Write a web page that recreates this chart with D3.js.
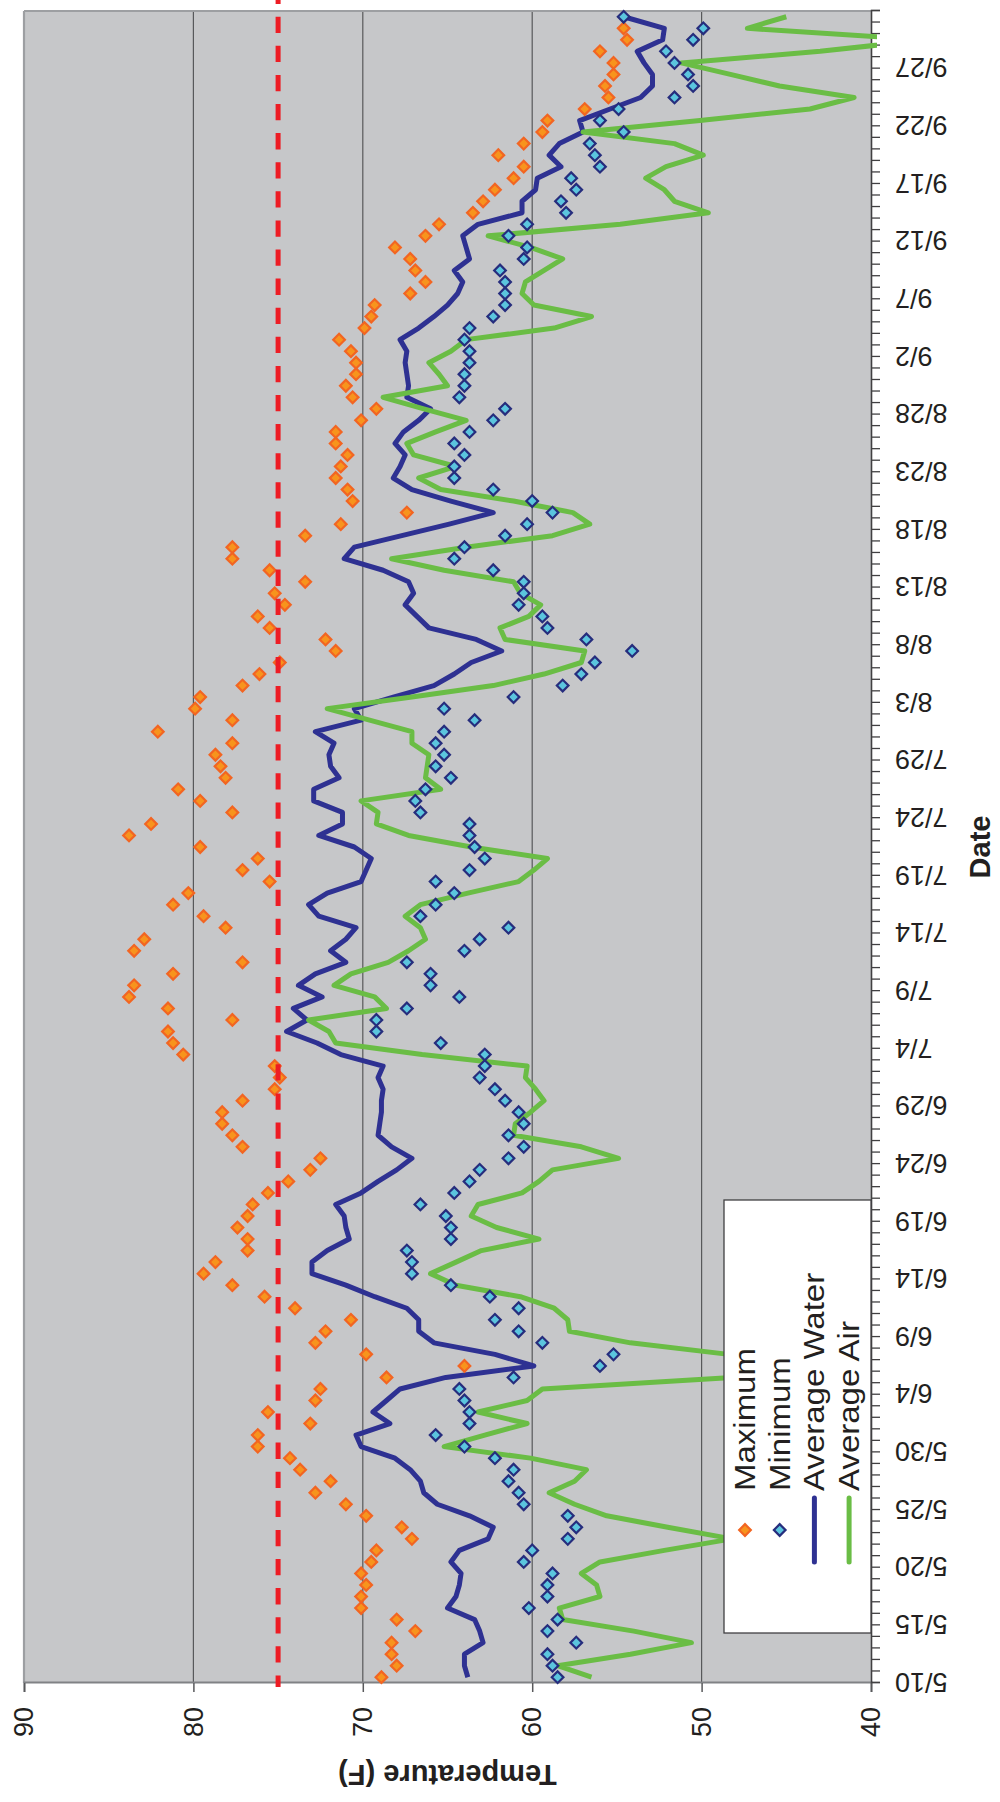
<!DOCTYPE html>
<html>
<head>
<meta charset="utf-8">
<script src="https://cdn.jsdelivr.net/npm/d3@7"></script>
<style>
  body { margin: 0; background: #fff; }
  svg { display: block; font-family: "Liberation Sans", Arial, sans-serif; }
</style>
</head>
<body>
<svg id="chart" width="1000" height="1802"></svg>
<script>
// One reading per day, 5/10 through 10/1 (null = no reading)
const startDay = new Date(2008, 4, 10);

const maxTemp = [
  68.9, 68.0, 68.3, 68.3, 66.9, 68.0, 70.1, 70.1, 69.8, 70.1,
  69.5, 69.2, 67.1, 67.7, 69.8, 71.0, 72.8, 71.9, 73.7, 74.3,
  76.2, 76.2, 73.1, 75.6, 72.8, 72.5, 68.6, 64.0, 69.8, 72.8,
  72.2, 70.7, 74.0, 75.8, 77.7, 79.4, 78.7, 76.8, 76.8, 77.4,
  76.8, 76.5, 75.6, 74.4, 73.1, 72.5, 77.1, 77.7, 78.3, 78.3,
  77.1, 75.2, 74.9, 75.2, 80.6, 81.2, 81.5, 77.7, 81.5, 83.8,
  83.5, 81.2, 77.1, 83.5, 82.9, 78.1, 79.4, 81.2, 80.3, 75.5,
  77.1, 76.2, 79.6, 83.8, 82.5, 77.7, 79.6, 80.9, 78.1, 78.4,
  78.7, 77.7, 82.1, 77.7, 79.9, 79.6, 77.1, 76.1, 74.9, 71.6,
  72.2, 75.5, 76.2, 74.6, 75.2, 73.4, 75.5, 77.7, 77.7, 73.4,
  71.3, 67.4, 70.6, 70.9, 71.6, 71.3, 70.9, 71.6, 71.6, 70.1,
  69.2, 70.6, 71.0, 70.4, 70.4, 70.7, 71.4, 69.9, 69.5, 69.3,
  67.2, 66.3, 66.9, 67.2, 68.1, 66.3, 65.5, 63.5, 62.9, 62.2,
  61.1, 60.5, 62.0, 60.5, 59.4, 59.1, 56.9, 55.5, 55.7, 55.2,
  55.2, 56.0, 54.4, 54.6, null
];

const minTemp = [
  58.5, 58.8, 59.1, 57.4, 59.1, 58.5, 60.2, 59.1, 59.1, 58.8,
  60.5, 60.0, 57.9, 57.4, 57.9, 60.5, 60.8, 61.4, 61.1, 62.2,
  64.0, 65.7, 63.7, 63.7, 64.0, 64.3, 61.1, 56.0, 55.2, 59.4,
  60.8, 62.2, 60.8, 62.5, 64.8, 67.1, 67.1, 67.4, 64.8, 64.8,
  65.1, 66.6, 64.6, 63.7, 63.1, 61.4, 60.5, 61.4, 60.5, 60.8,
  61.6, 62.2, 63.1, 62.8, 62.8, 65.4, 69.2, 69.2, 67.4, 64.3,
  66.0, 66.0, 67.4, 64.0, 63.1, 61.4, 66.6, 65.7, 64.6, 65.7,
  63.7, 62.8, 63.4, 63.7, 63.7, 66.6, 66.9, 66.3, 64.8, 65.7,
  65.2, 65.7, 65.2, 63.4, 65.2, 61.1, 58.2, 57.1, 56.3, 54.1,
  56.8, 59.1, 59.4, 60.8, 60.5, 60.5, 62.3, 64.6, 64.0, 61.6,
  60.3, 58.8, 60.0, 62.3, 64.6, 64.6, 64.0, 64.6, 63.7, 62.3,
  61.6, 64.3, 64.0, 64.0, 63.7, 63.7, 64.0, 63.7, 62.3, 61.6,
  61.6, 61.6, 61.9, 60.5, 60.3, 61.4, 60.3, 58.0, 58.3, 57.4,
  57.7, 56.0, 56.3, 56.6, 54.6, 56.0, 54.9, 51.6, 50.5, 50.8,
  51.6, 52.1, 50.5, 49.9, 54.6
];

const waterAvg = [
  63.8, 64.0, 64.0, 62.9, 63.1, 63.4, 65.0, 64.5, 64.3, 64.2,
  64.8, 64.3, 62.6, 62.3, 63.7, 65.6, 66.4, 66.6, 67.2, 68.1,
  70.1, 70.4, 68.4, 69.4, 68.6, 67.8, 65.1, 59.9, 62.2, 65.8,
  66.7, 66.7, 67.4, 69.3, 71.0, 73.0, 73.0, 72.1, 70.8, 71.0,
  71.1, 71.6, 70.1, 69.1, 68.0, 67.1, 68.3, 69.1, 69.0, 68.9,
  68.9, 68.8, 69.1, 68.8, 71.3, 72.7, 74.5, 73.3, 74.1, 72.4,
  73.8, 72.8, 71.0, 71.9, 71.0, 70.4, 72.6, 73.2, 72.1, 70.1,
  69.8, 69.5, 70.5, 72.6, 71.2, 71.2, 72.9, 72.9, 71.4, 71.9,
  72.0, 71.7, 72.8, 70.1, 70.5, 68.2, 65.8, 64.6, 63.6, 61.8,
  63.3, 66.1, 66.8, 67.5, 67.0, 67.3, 68.8, 71.1, 70.5, 67.7,
  64.9, 62.3, 64.8, 67.1, 68.2, 67.8, 67.5, 68.1, 67.6, 66.7,
  66.0, 67.4, 67.3, 67.4, 67.5, 67.4, 67.8, 66.7, 65.8, 65.0,
  64.4, 64.1, 64.6, 63.7, 63.9, 64.1, 63.2, 60.6, 60.6, 59.8,
  59.7, 58.3, 59.0, 58.4, 57.0, 57.2, 55.4, 53.6, 52.9, 52.9,
  53.4, 53.8, 52.3, 52.2, 54.6
];

const airAvg = [
  56.5, 58.5, 54.2, 50.6, 54.0, 58.2, 58.4, 56.0, 56.2, 57.1,
  56.0, 52.2, 48.2, 52.0, 55.6, 57.5, 59.0, 57.5, 56.8, 60.1,
  65.2, 62.8, 60.3, 63.2, 60.3, 59.4, 48.2, 46.5, 48.4, 54.2,
  57.8, 57.9, 58.7, 60.7, 64.5, 66.0, 64.5, 63.0, 59.6, 62.1,
  63.6, 63.2, 60.6, 59.6, 58.8, 54.9, 57.1, 61.1, 61.0, 60.1,
  59.3, 59.8, 60.4, 60.3, 66.5, 71.6, 72.0, 73.2, 68.6, 69.3,
  71.7, 70.7, 68.5, 67.3, 66.3, 66.6, 67.5, 66.6, 63.8, 60.8,
  59.9, 59.1, 63.6, 67.3, 69.2, 69.1, 70.1, 65.4, 66.3, 66.2,
  66.1, 67.1, 67.1, 69.6, 72.1, 67.1, 62.3, 59.3, 57.1, 56.9,
  61.6, 61.9, 60.2, 59.5, 60.7, 61.1, 65.2, 68.3, 63.9, 58.8,
  56.6, 57.6, 61.1, 65.4, 66.7, 64.5, 67.0, 67.4, 65.7, 63.9,
  66.4, 68.8, 65.0, 65.5, 66.1, 64.8, 63.9, 58.7, 56.5, 59.9,
  60.6, 60.4, 59.3, 58.2, 60.1, 62.6, 54.8, 49.6, 51.6, 52.2,
  53.3, 52.1, 49.9, 51.6, 57.0, 50.1, 43.6, 41.0, 45.4, 48.3,
  51.2, 43.0, 36.8, 47.3, 45.0
];

const tempTicks = [90, 80, 70, 60, 50, 40];
const limitTemp = 75;
const seriesNames = ["Maximum", "Minimum", "Average Water", "Average Air"];

// The chart is laid out landscape (1802 x 1000) and then turned on its side
const svg = d3.select("#chart");
const W = 1802;
const g = svg.append("g").attr("transform", `translate(0,${W}) rotate(-90)`);

const plot = { left: 119, right: 1791, top: 24, bottom: 871 };
const dates = d3.timeDay.range(startDay, d3.timeDay.offset(startDay, maxTemp.length));
const endDay = d3.timeDay.offset(startDay, dates.length);

const x = d3.scaleTime().domain([startDay, endDay]).range([plot.left, plot.right]);
const y = d3.scaleLinear().domain([40, 90]).range([plot.bottom, plot.top]);
const mid = d => d3.timeHour.offset(d, 12);   // points sit in the middle of each day

const navy = "#2e3192", green = "#6abd45";

// clip lines to the plot area (a few px of slack on the 40F side, like the original)
g.append("defs").append("clipPath").attr("id", "plot-clip")
  .append("rect")
  .attr("x", plot.left).attr("y", plot.top - 2)
  .attr("width", plot.right - plot.left).attr("height", plot.bottom - plot.top + 8);

// plot background
g.append("rect")
  .attr("x", plot.left).attr("y", plot.top)
  .attr("width", plot.right - plot.left).attr("height", plot.bottom - plot.top)
  .attr("fill", "#c6c7c9");

// gridlines
g.append("g").selectAll("line")
  .data(tempTicks.filter(t => t !== 90 && t !== 40))
  .enter().append("line")
  .attr("x1", plot.left).attr("x2", plot.right)
  .attr("y1", d => y(d)).attr("y2", d => y(d))
  .attr("stroke", "#58595b").attr("stroke-width", 1.2);

// frame edges
g.append("line").attr("x1", plot.left).attr("x2", plot.right)
  .attr("y1", plot.top).attr("y2", plot.top)
  .attr("stroke", "#9d9fa2").attr("stroke-width", 2.2);
g.append("line").attr("x1", plot.right).attr("x2", plot.right)
  .attr("y1", plot.top).attr("y2", plot.bottom)
  .attr("stroke", "#9d9fa2").attr("stroke-width", 2);

// temperature axis
const yAxis = g.append("g")
  .attr("transform", `translate(${plot.left},0)`)
  .call(d3.axisLeft(y).tickValues(tempTicks).tickSize(9).tickPadding(15));
yAxis.select(".domain").attr("stroke", "#808285").attr("stroke-width", 2);
yAxis.selectAll(".tick line").attr("stroke", "#58595b").attr("stroke-width", 1.5);
yAxis.selectAll(".tick text")
  .attr("font-size", 27).attr("fill", "#231f20")
  .attr("font-family", "Liberation Sans, Arial, sans-serif");

// date axis: a tick every day, a label every five days
const dayTicks = dates.concat([endDay]);
const fmt = d3.timeFormat("%-m/%-d");
const xAxis = g.append("g")
  .attr("transform", `translate(0,${plot.bottom})`)
  .call(d3.axisBottom(x).tickValues(dayTicks).tickSize(9)
    .tickFormat((d, i) => (i % 5 === 0 && i < dates.length) ? fmt(d) : ""));
xAxis.select(".domain").attr("stroke", "#414042").attr("stroke-width", 1.6);
xAxis.selectAll(".tick line").attr("stroke", "#414042").attr("stroke-width", 1.3);
xAxis.selectAll(".tick text")
  .attr("font-size", 27).attr("fill", "#231f20")
  .attr("font-family", "Liberation Sans, Arial, sans-serif")
  .attr("transform", "rotate(-90)")
  .attr("text-anchor", "end")
  .attr("x", -24).attr("y", 0).attr("dy", "0.36em");

// axis titles
g.append("text")
  .attr("transform", `translate(27,${(plot.top + plot.bottom) / 2}) rotate(-90)`)
  .attr("text-anchor", "middle").attr("dominant-baseline", "central")
  .attr("font-size", 29).attr("font-weight", "bold").attr("fill", "#231f20")
  .text("Temperature (F)");
g.append("text")
  .attr("x", (plot.left + plot.right) / 2).attr("y", 980)
  .attr("text-anchor", "middle").attr("dominant-baseline", "central")
  .attr("font-size", 29).attr("font-weight", "bold").attr("fill", "#231f20")
  .text("Date");

// average lines
const series = g.append("g").attr("clip-path", "url(#plot-clip)");
function drawLine(values, color) {
  const line = d3.line()
    .defined(d => d != null)
    .x((d, i) => x(mid(dates[i])))
    .y(d => y(d));
  series.append("path")
    .datum(values)
    .attr("d", line)
    .attr("fill", "none")
    .attr("stroke", color)
    .attr("stroke-width", 5)
    .attr("stroke-linejoin", "round");
}
drawLine(waterAvg, navy);
drawLine(airAvg, green);

// daily max / min markers
const diamond = d3.symbol().type(d3.symbolSquare).size(68);
function drawMarkers(values, fill, stroke) {
  g.append("g").selectAll("path")
    .data(values.map((v, i) => ({ v, date: dates[i] })).filter(d => d.v != null))
    .enter().append("path")
    .attr("d", diamond)
    .attr("transform", d => `translate(${x(mid(d.date))},${y(d.v)}) rotate(45)`)
    .attr("fill", fill)
    .attr("stroke", stroke)
    .attr("stroke-width", 2.2);
}
drawMarkers(maxTemp, "#f7941d", "#f26522");
drawMarkers(minTemp, "#5bc5de", "#262d7d");

// limit line
g.append("line")
  .attr("x1", W).attr("x2", plot.left - 4)
  .attr("y1", y(limitTemp)).attr("y2", y(limitTemp))
  .attr("stroke", "#ed1c24").attr("stroke-width", 5)
  .attr("stroke-dasharray", "16.3,12.8").attr("stroke-dashoffset", 12.4);

// legend
const legend = g.append("g");
legend.append("rect")
  .attr("x", 169).attr("y", 724).attr("width", 433).attr("height", plot.bottom - 724)
  .attr("fill", "#fff").attr("stroke", "#414042").attr("stroke-width", 1.3);
const rows = seriesNames.map((name, i) => ({ name, v: 745 + i * 34.7 }));
legend.append("path").attr("d", diamond)
  .attr("transform", `translate(272,${rows[0].v}) rotate(45)`)
  .attr("fill", "#f7941d").attr("stroke", "#f26522").attr("stroke-width", 2.2);
legend.append("path").attr("d", diamond)
  .attr("transform", `translate(272,${rows[1].v}) rotate(45)`)
  .attr("fill", "#5bc5de").attr("stroke", "#262d7d").attr("stroke-width", 2.2);
[[rows[2], navy], [rows[3], green]].forEach(([r, c]) => {
  legend.append("line")
    .attr("x1", 240).attr("x2", 304).attr("y1", r.v).attr("y2", r.v)
    .attr("stroke", c).attr("stroke-width", 5).attr("stroke-linecap", "round");
});
legend.selectAll("text.item")
  .data(rows)
  .enter().append("text")
  .attr("class", "item")
  .attr("transform", d => `translate(311,${d.v + 10}) scale(1.1,1)`)
  .attr("font-size", 30).attr("fill", "#231f20")
  .text(d => d.name);
</script>
</body>
</html>
